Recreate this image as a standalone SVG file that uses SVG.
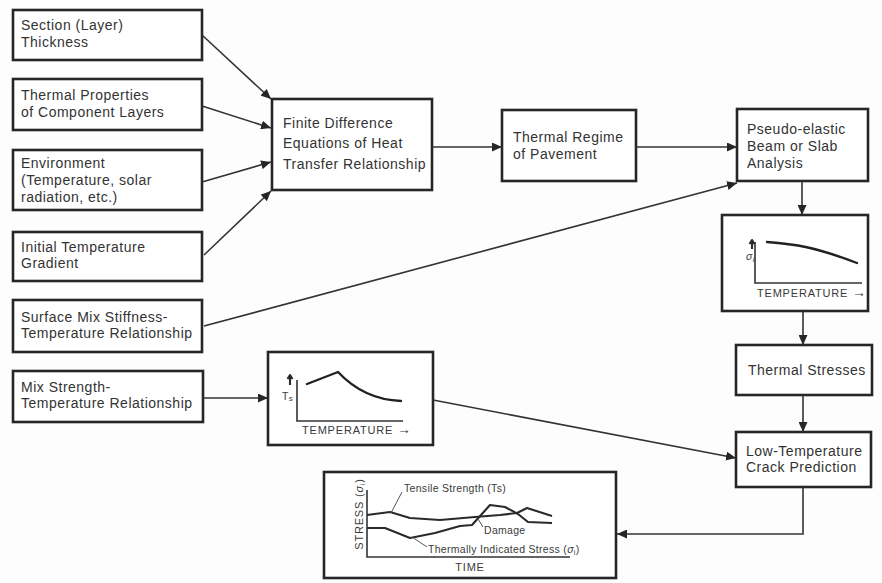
<svg xmlns="http://www.w3.org/2000/svg" width="882" height="583" viewBox="0 0 882 583">
  <style>
    .box { fill: #ffffff; stroke: #262626; stroke-width: 2.6; }
    .lbl { font-family: "Liberation Sans", Arial, sans-serif; font-size: 14px; letter-spacing: 0.5px; fill: #333333; }
    .small { font-family: "Liberation Sans", Arial, sans-serif; font-size: 11px; letter-spacing: 0.8px; fill: #3a3a3a; }
    .tiny { font-family: "Liberation Sans", Arial, sans-serif; font-size: 10.5px; letter-spacing: 0.3px; fill: #3a3a3a; }
    .conn { fill: none; stroke: #333333; stroke-width: 1.6; marker-end: url(#arrow); }
    .axis { fill: none; stroke: #333333; stroke-width: 1.6; }
    .curve { fill: none; stroke: #222222; stroke-width: 2.4; stroke-linejoin: round; stroke-linecap: round; }
    .thin { fill: none; stroke: #2a2a2a; stroke-width: 2.1; stroke-linejoin: round; }
    .lead { fill: none; stroke: #555555; stroke-width: 1; }
  </style>
  <defs>
    <marker id="arrow" markerUnits="userSpaceOnUse" markerWidth="11" markerHeight="9" refX="10" refY="4.5" orient="auto">
      <path d="M0,0 L10,4.5 L0,9 z" fill="#262626"/>
    </marker>
  </defs>

  <rect width="882" height="583" fill="#fdfdfd"/>

  <!-- input boxes -->
  <g id="section-thickness">
    <rect class="box" x="13" y="10" width="189" height="50"/>
    <text class="lbl" x="21" y="30">Section (Layer)</text>
    <text class="lbl" x="21" y="47">Thickness</text>
  </g>
  <g id="thermal-properties">
    <rect class="box" x="13" y="79" width="189" height="51"/>
    <text class="lbl" x="21" y="100">Thermal Properties</text>
    <text class="lbl" x="21" y="117">of Component Layers</text>
  </g>
  <g id="environment">
    <rect class="box" x="13" y="150" width="189" height="60"/>
    <text class="lbl" x="21" y="168">Environment</text>
    <text class="lbl" x="21" y="185">(Temperature, solar</text>
    <text class="lbl" x="21" y="202">radiation, etc.)</text>
  </g>
  <g id="initial-gradient">
    <rect class="box" x="13" y="232" width="189" height="49"/>
    <text class="lbl" x="21" y="252">Initial Temperature</text>
    <text class="lbl" x="21" y="268">Gradient</text>
  </g>
  <g id="surface-stiffness">
    <rect class="box" x="13" y="300" width="189" height="52"/>
    <text class="lbl" x="21" y="322">Surface Mix Stiffness-</text>
    <text class="lbl" x="21" y="338">Temperature Relationship</text>
  </g>
  <g id="mix-strength">
    <rect class="box" x="13" y="371" width="190" height="51"/>
    <text class="lbl" x="21" y="392">Mix Strength-</text>
    <text class="lbl" x="21" y="408">Temperature Relationship</text>
  </g>

  <!-- processing boxes -->
  <g id="finite-difference">
    <rect class="box" x="272" y="99" width="160" height="91"/>
    <text class="lbl" x="283" y="128">Finite Difference</text>
    <text class="lbl" x="283" y="148">Equations of Heat</text>
    <text class="lbl" x="283" y="169">Transfer Relationship</text>
  </g>
  <g id="thermal-regime">
    <rect class="box" x="502" y="110" width="134" height="71"/>
    <text class="lbl" x="513" y="142">Thermal Regime</text>
    <text class="lbl" x="513" y="159">of Pavement</text>
  </g>
  <g id="pseudo-elastic">
    <rect class="box" x="737" y="109" width="131" height="72"/>
    <text class="lbl" x="747" y="134">Pseudo-elastic</text>
    <text class="lbl" x="747" y="151">Beam or Slab</text>
    <text class="lbl" x="747" y="168">Analysis</text>
  </g>

  <g id="stress-temperature-chart">
    <rect class="box" x="722" y="215" width="146" height="96"/>
    <path class="axis" d="M755,242 L755,283 L862,283"/>
    <path class="thin" d="M752,249 L752,241 M749.5,244 L752,240 L754.5,244"/>
    <text class="tiny" x="746" y="260" font-style="italic">σ<tspan font-size="7" dy="2">i</tspan></text>
    <path class="curve" d="M767,242 C795,244 815,247 857,263"/>
    <text class="small" x="757" y="297">TEMPERATURE <tspan font-size="14">→</tspan></text>
  </g>

  <g id="thermal-stresses">
    <rect class="box" x="736" y="345" width="136" height="50"/>
    <text class="lbl" x="748" y="375">Thermal Stresses</text>
  </g>
  <g id="crack-prediction">
    <rect class="box" x="736" y="432" width="135" height="55"/>
    <text class="lbl" x="746" y="456">Low-Temperature</text>
    <text class="lbl" x="746" y="472">Crack Prediction</text>
  </g>

  <g id="strength-temperature-chart">
    <rect class="box" x="268" y="352" width="165" height="93"/>
    <path class="axis" d="M297,380 L297,421 L403,421"/>
    <path class="thin" d="M290,385 L290,376 M287.5,379 L290,375 L292.5,379"/>
    <text class="tiny" x="282" y="400">T<tspan font-size="8" dy="1">s</tspan></text>
    <path class="curve" d="M307,384 L338,372 C355,390 375,400 401,401"/>
    <text class="small" x="302" y="434">TEMPERATURE <tspan font-size="14">→</tspan></text>
  </g>

  <g id="stress-time-chart">
    <rect class="box" x="324" y="472" width="292" height="106"/>
    <path class="axis" d="M367,490 L367,557 L570,557"/>
    <text class="small" transform="translate(363,514) rotate(-90)" text-anchor="middle">STRESS (<tspan font-style="italic">σ</tspan><tspan font-size="7" dy="2">i</tspan><tspan dy="-2">)</tspan></text>
    <!-- tensile strength -->
    <path class="thin" d="M367,515 L390,512 L410,518 L440,520 L475,517 L500,515 L517,513 L527,508 L552,516"/>
    <!-- thermally induced stress -->
    <path class="thin" d="M367,528 L385,528 L410,538 L435,533 L460,526 L472,525 L490,505 L505,507 L518,514 L528,522 L552,523"/>
    <path class="lead" d="M402,492 L391,513"/>
    <path class="lead" d="M483,527 L478,519"/>
    <path class="lead" d="M427,547 L412,537"/>
    <text class="tiny" x="404" y="492">Tensile Strength (Ts)</text>
    <text class="tiny" x="484" y="534">Damage</text>
    <text class="tiny" x="428" y="553">Thermally Indicated Stress (<tspan font-style="italic">σ</tspan><tspan font-size="7" dy="2">i</tspan><tspan dy="-2">)</tspan></text>
    <text class="small" x="470" y="571" text-anchor="middle">TIME</text>
  </g>

  <!-- connectors -->
  <g id="connectors">
    <path class="conn" d="M202,35 L271,99"/>
    <path class="conn" d="M202,106 L271,128"/>
    <path class="conn" d="M202,182 L271,162"/>
    <path class="conn" d="M204,255 L271,191"/>
    <path class="conn" d="M432,147 L502,147"/>
    <path class="conn" d="M636,147 L737,147"/>
    <path class="conn" d="M204,326 L737,183"/>
    <path class="conn" d="M802,181 L802,215"/>
    <path class="conn" d="M803,311 L803,345"/>
    <path class="conn" d="M803,395 L803,432"/>
    <path class="conn" d="M203,398 L268,398"/>
    <path class="conn" d="M433,400 L736,458"/>
    <path class="conn" d="M803,487 L803,534 L617,534"/>
  </g>
</svg>
